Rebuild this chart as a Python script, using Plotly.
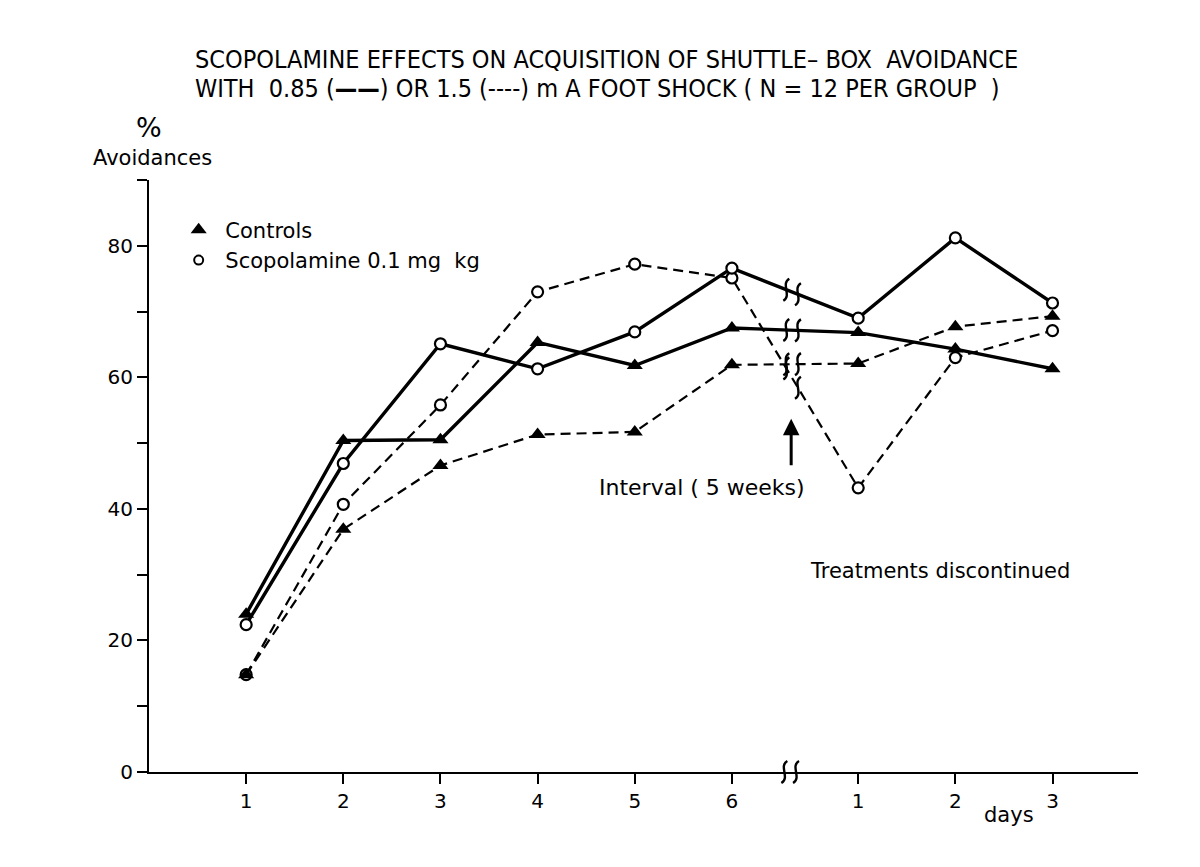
import plotly.graph_objects as go

# ---- data ----
x_pos = [1, 2, 3, 4, 5, 6, 7.3, 8.3, 9.3]
x_labels = ["1", "2", "3", "4", "5", "6", "1", "2", "3"]
controls_085 = [24.0, 50.4, 50.5, 65.3, 61.8, 67.5, 66.8, 64.3, 61.3]
controls_15 = [14.8, 36.9, 46.6, 51.3, 51.7, 61.9, 62.1, 67.7, 69.3]
scop_085 = [22.4, 46.9, 65.1, 61.3, 66.9, 76.6, 69.0, 81.2, 71.3]
scop_15 = [14.8, 40.7, 55.8, 73.0, 77.2, 75.1, 43.2, 63.0, 67.1]
y_ticks = [0, 10, 20, 30, 40, 50, 60, 70, 80, 90]
y_ticktext = ["0", "", "20", "", "40", "", "60", "", "80", ""]
break_x = [6.56, 6.68]

FONT = "DejaVu Sans, Liberation Sans, sans-serif"
TFONT = "Liberation Sans Narrow, DejaVu Sans Condensed, Liberation Sans, sans-serif"

fig = go.Figure()

tri = dict(symbol="triangle-up", size=14, color="black", line=dict(width=0))
circ = dict(symbol="circle", size=11, color="white", line=dict(color="black", width=2.2))

series = [
    (scop_15, "dash", 2.2, circ),
    (controls_15, "dash", 2.2, tri),
    (scop_085, "solid", 3.4, circ),
    (controls_085, "solid", 3.4, tri),
]
for ys, dash, w, mk in series:
    fig.add_trace(go.Scatter(
        x=x_pos, y=ys, mode="lines+markers",
        line=dict(color="black", width=w, dash=("10px,6px" if dash == "dash" else "solid")),
        marker=mk, showlegend=False, cliponaxis=False))

# legend-only entries
fig.add_trace(go.Scatter(x=[None], y=[None], mode="markers", marker=tri, name=" Controls"))
fig.add_trace(go.Scatter(x=[None], y=[None], mode="markers",
                         marker=dict(symbol="circle", size=9, color="white",
                                     line=dict(color="black", width=2)),
                         name=" Scopolamine 0.1 mg  kg"))

shapes = []
squiggle = "M 3,11 C -6,6 6,-6 -3,-11"
def add_break(xb, yb, yref="y"):
    shapes.append(dict(type="path", xref="x", yref=yref, xsizemode="pixel", ysizemode="pixel",
                       xanchor=xb, yanchor=yb, path=squiggle,
                       line=dict(color="black", width=2.4)))

# break marks on each line (interpolated between day 6 and post-interval day 1)
for ys, *_ in series:
    for xb in break_x:
        t = (xb - x_pos[5]) / (x_pos[6] - x_pos[5])
        add_break(xb, ys[5] + t * (ys[6] - ys[5]))
# break marks on x axis
for xb in [6.54, 6.66]:
    add_break(xb, 0, yref="paper")

fig.update_layout(shapes=shapes)

annotations = [
    dict(text="SCOPOLAMINE EFFECTS ON ACQUISITION OF SHUTTLE\u2013 BOX  AVOIDANCE",
         xref="paper", yref="paper", x=0.044, y=1.203, xanchor="left", yanchor="middle",
         showarrow=False, font=dict(family=TFONT, size=25, color="black")),
    dict(text="WITH  0.85 (<b>\u2014\u2014</b>) OR 1.5 (----) m A FOOT SHOCK ( N = 12 PER GROUP  )",
         xref="paper", yref="paper", x=0.044, y=1.155, xanchor="left", yanchor="middle",
         showarrow=False, font=dict(family=TFONT, size=25, color="black")),
    dict(text="%", xref="paper", yref="paper", x=0.0, y=1.088, xanchor="center", yanchor="middle",
         showarrow=False, font=dict(family=FONT, size=27, color="black")),
    dict(text="Avoidances", xref="paper", yref="paper", x=0.004, y=1.037, xanchor="center",
         yanchor="middle", showarrow=False, font=dict(family=FONT, size=21, color="black")),
    dict(text="days", xref="x", yref="paper", x=8.85, y=-0.073, xanchor="center", yanchor="middle",
         showarrow=False, font=dict(family=FONT, size=21, color="black")),
    dict(text="Treatments discontinued", xref="x", yref="y", x=8.14, y=30.5, xanchor="center",
         yanchor="middle", showarrow=False, font=dict(family=FONT, size=21, color="black")),
    dict(text="Interval ( 5 weeks)", xref="x", yref="y", x=5.69, y=43.2, xanchor="center",
         yanchor="middle", showarrow=False, font=dict(family=FONT, size=22, color="black")),
    dict(text="", xref="x", yref="y", x=6.61, y=53.7, ax=0, ay=48, showarrow=True,
         arrowhead=2, arrowsize=1.1, arrowwidth=3, arrowcolor="black"),
]
fig.update_layout(annotations=annotations)

fig.update_layout(
    width=1200, height=867,
    margin=dict(l=141, r=70, t=172, b=103),
    paper_bgcolor="white", plot_bgcolor="white",
    font=dict(family=FONT, color="black"),
    legend=dict(x=0.03, y=0.95, xanchor="left", yanchor="top", bgcolor="rgba(0,0,0,0)",
                font=dict(family=FONT, size=21, color="black"), tracegroupgap=0, itemwidth=30),
    xaxis=dict(range=[0, 10.18], tickvals=x_pos, ticktext=x_labels, showline=True,
               linecolor="black", linewidth=2, ticks="outside", ticklen=10, tickwidth=2,
               tickcolor="black", showgrid=False, zeroline=False,
               tickfont=dict(family=FONT, size=20, color="black")),
    yaxis=dict(range=[0, 90], tickvals=y_ticks, ticktext=y_ticktext, showline=True,
               linecolor="black", linewidth=2, ticks="outside", ticklen=10, tickwidth=2,
               tickcolor="black", showgrid=False, zeroline=False,
               tickfont=dict(family=FONT, size=20, color="black")),
)

fig.write_html("out.html")
